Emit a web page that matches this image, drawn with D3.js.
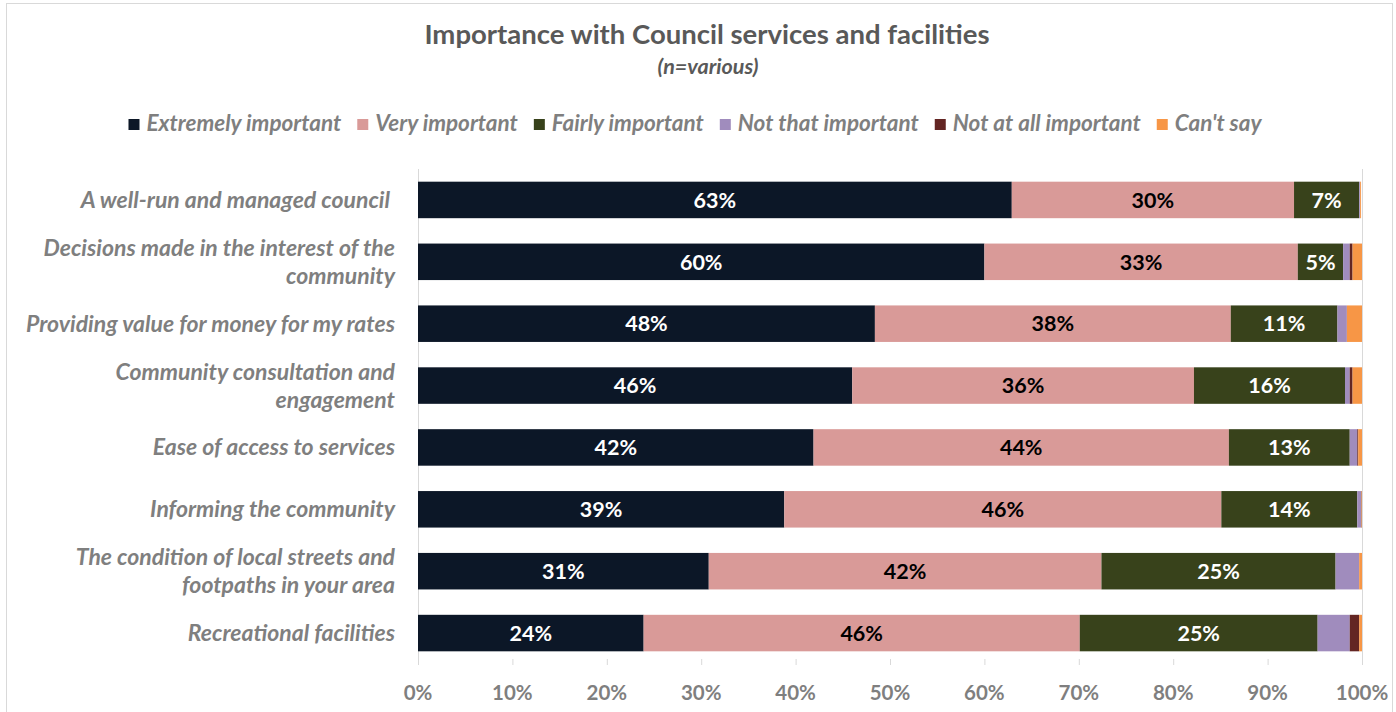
<!DOCTYPE html>
<html>
<head>
<meta charset="utf-8">
<script src="https://cdn.jsdelivr.net/npm/d3@7"></script>
<style>
  html, body { margin: 0; padding: 0; background: #fff; }
  svg { display: block; font-family: Lato, "Open Sans", sans-serif; }
  .cat tspan { white-space: pre; }
</style>
</head>
<body>
<svg id="chart" width="1396" height="712"></svg>
<script>
// Survey rows (top to bottom); "\n" marks where a label wraps
const categories = [
  "A well-run and managed council ",
  "Decisions made in the interest of the\ncommunity",
  "Providing value for money for my rates",
  "Community consultation and\nengagement",
  "Ease of access to services",
  "Informing the community",
  "The condition of local streets and\nfootpaths in your area",
  "Recreational facilities"
];

const seriesNames = [
  "Extremely important", "Very important", "Fairly important",
  "Not that important", "Not at all important", "Can't say"
];

// Percent of respondents per row, one array per response
const extremelyImportant = [62.9, 60.0, 48.4, 46.0, 41.9, 38.8, 30.8, 23.9];
const veryImportant      = [29.9, 33.2, 37.7, 36.2, 44.0, 46.3, 41.6, 46.2];
const fairlyImportant    = [6.9, 4.8, 11.3, 16.0, 12.8, 14.4, 24.8, 25.2];
const notThatImportant   = [0.1, 0.7, 1.0, 0.5, 0.8, 0.4, 2.5, 3.4];
const notAtAllImportant  = [0.0, 0.3, 0.0, 0.3, 0.1, 0.05, 0.0, 1.0];
const cantSay            = [0.1, 1.0, 1.6, 1.0, 0.4, 0.05, 0.3, 0.3];

const xTicks = [0, 10, 20, 30, 40, 50, 60, 70, 80, 90, 100];

const colors = ["#0c1727", "#d99a98", "#38421b", "#a08cbd", "#632523", "#f79646"];
const labelColors = ["#ffffff", "#000000", "#ffffff"];

const seriesValues = [extremelyImportant, veryImportant, fairlyImportant,
                      notThatImportant, notAtAllImportant, cantSay];

const rows = categories.map((c, i) => {
  const r = { category: c };
  seriesNames.forEach((s, k) => { r[s] = seriesValues[k][i]; });
  return r;
});

const svg = d3.select("#chart");
const W = 1396, H = 712;

// outer chart frame
svg.append("rect")
  .attr("x", 6.5).attr("y", 3.5).attr("width", W - 10).attr("height", H)
  .attr("fill", "#fff").attr("stroke", "#d9d9d9").attr("stroke-width", 1);

// title
svg.append("text")
  .attr("x", 707).attr("y", 44)
  .attr("text-anchor", "middle")
  .attr("font-size", 27.5).attr("font-weight", 700).attr("fill", "#595959")
  .text("Importance with Council services and facilities");
svg.append("text")
  .attr("x", 708).attr("y", 74)
  .attr("text-anchor", "middle")
  .attr("font-size", 21.5).attr("font-style", "italic").attr("font-weight", 700).attr("fill", "#595959")
  .text("(n=various)");

// scales
const x = d3.scaleLinear().domain([0, 100]).range([418, 1362]);
const y = d3.scaleBand().domain(categories).range([169, 664]).paddingInner(0.41).paddingOuter(0.205);

// stacked layout
const stack = d3.stack().keys(seriesNames);
const stacked = stack(rows);

// legend
const legend = svg.append("g").attr("class", "legend");
let lx = 0;
const legendItems = [];
seriesNames.forEach((s, k) => {
  const g = legend.append("g");
  g.append("rect").attr("x", 0).attr("y", -12).attr("width", 11).attr("height", 11).attr("fill", colors[k]);
  const t = g.append("text").attr("x", 18).attr("y", 0)
    .attr("font-size", 22.5).attr("font-style", "italic").attr("font-weight", 700)
    .attr("fill", "#7f7f7f").text(s);
  const w = 18 + t.node().getComputedTextLength();
  legendItems.push({ g, x: lx });
  lx += w + 16;
});
const legendWidth = lx - 16;
const legendStart = 695 - legendWidth / 2;
legendItems.forEach(it => it.g.attr("transform", `translate(${legendStart + it.x},131)`));

// axis lines at 0% and 100%
svg.append("g").selectAll("line").data([0, 100]).join("line")
  .attr("x1", d => x(d) + 0.5).attr("x2", d => x(d) + 0.5)
  .attr("y1", 169).attr("y2", 665)
  .attr("stroke", "#d9d9d9").attr("stroke-width", 1);

// bottom tick marks
svg.append("g").selectAll("line").data(xTicks).join("line")
  .attr("x1", d => x(d) + 0.5).attr("x2", d => x(d) + 0.5)
  .attr("y1", 659).attr("y2", 665)
  .attr("stroke", "#d9d9d9").attr("stroke-width", 1);

// bars
const layers = svg.append("g").selectAll("g").data(stacked).join("g")
  .attr("fill", (d, k) => colors[k]);
layers.selectAll("rect").data(d => d).join("rect")
  .attr("x", d => x(d[0]))
  .attr("y", d => y(d.data.category))
  .attr("width", d => Math.max(0, x(d[1]) - x(d[0])))
  .attr("height", y.bandwidth());

// value labels on the three main segments
stacked.slice(0, 3).forEach((layer, k) => {
  svg.append("g").selectAll("text").data(layer).join("text")
    .attr("x", d => (x(d[0]) + x(d[1])) / 2)
    .attr("y", d => y(d.data.category) + y.bandwidth() / 2)
    .attr("dy", "0.36em")
    .attr("text-anchor", "middle")
    .attr("font-size", 21.5).attr("font-weight", 700)
    .attr("fill", labelColors[k])
    .text(d => Math.round(d[1] - d[0]) + "%");
});

// category labels
const catG = svg.append("g").attr("class", "cat");
categories.forEach(c => {
  const lines = c.split("\n");
  const cy = y(c) + y.bandwidth() / 2;
  const lh = 28;
  const t = catG.append("text")
    .attr("text-anchor", "end")
    .attr("font-size", 23).attr("font-style", "italic").attr("font-weight", 700)
    .attr("fill", "#7f7f7f");
  lines.forEach((ln, i) => {
    t.append("tspan")
      .attr("x", 395)
      .attr("y", cy + (i - (lines.length - 1) / 2) * lh)
      .attr("dy", "0.35em")
      .text(ln);
  });
});

// x-axis labels
svg.append("g").selectAll("text").data(xTicks).join("text")
  .attr("x", d => x(d))
  .attr("y", 700)
  .attr("text-anchor", "middle")
  .attr("font-size", 20.5).attr("font-weight", 700)
  .attr("fill", "#7f7f7f")
  .text(d => d + "%");
</script>
</body>
</html>
